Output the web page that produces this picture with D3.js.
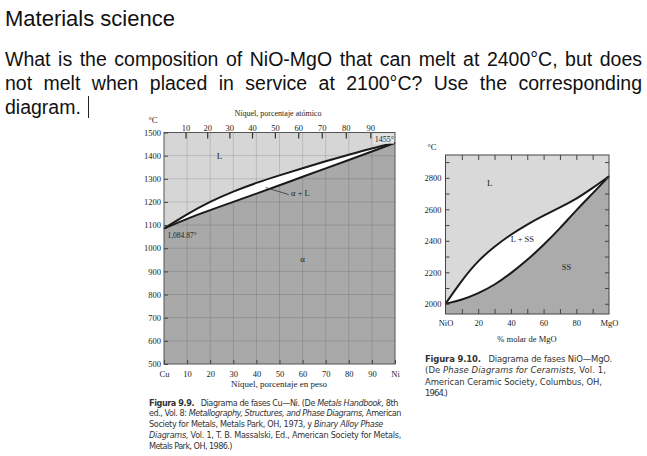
<!DOCTYPE html>
<html><head><meta charset="utf-8">
<script src="https://cdn.jsdelivr.net/npm/d3@7"></script>
<style>
body{margin:0;background:#fff;}
svg{display:block;}
</style></head><body>
<svg id="c" width="647" height="456"></svg>
<script>
// ---------- data ----------
const titleText = "Materials science";
const questionLines = [
  "What is the composition of NiO-MgO that can melt at 2400°C, but does",
  "not melt when placed in service at 2100°C? Use the corresponding",
  "diagram."
];
// Cu-Ni diagram (wt% Ni vs °C)
const cuNiWt = [0,10,20,30,40,50,60,70,80,90,100];
const cuNiLiquidus = [1085,1148,1202,1246,1283,1315,1346,1376,1404,1431,1455];
const cuNiSolidus  = [1085,1128,1165,1200,1236,1272,1309,1345,1381,1418,1455];
const cuNiTempTicks = [500,600,700,800,900,1000,1100,1200,1300,1400,1500];
const cuNiWtTicks = [0,10,20,30,40,50,60,70,80,90,100];
const cuNiWtLabels = ["Cu","10","20","30","40","50","60","70","80","90","Ni"];
const cuNiAtomicLabels = ["10","20","30","40","50","60","70","80","90"];
const cuNiAtomicPosWt = [9.3,18.7,28.3,38.1,48.0,58.1,68.3,78.7,89.3];
// NiO-MgO diagram (mol% MgO vs °C)
const nioMgoMol = [0,10,20,30,40,50,60,70,80,90,100];
const nioMgoLiquidus = [2000,2150,2275,2365,2440,2505,2560,2612,2665,2735,2810];
const nioMgoSolidus  = [2000,2024,2066,2119,2193,2277,2373,2479,2595,2701,2810];
const nioMgoTempLabels = [2000,2200,2400,2600,2800];
const nioMgoTempMinor = [2000,2100,2200,2300,2400,2500,2600,2700,2800,2900];
const nioMgoMolTicks = [10,20,30,40,50,60,70,80,90];
const nioMgoMolLabelPos = [0,20,40,60,80,100];
const nioMgoMolLabels = ["NiO","20","40","60","80","MgO"];
const captionLeft = [
  [["Figura 9.9.","b"],["   Diagrama de fases Cu—Ni. (De ",""],["Metals Handbook,","i"],[" 8th",""]],
  [["ed., Vol. 8: ",""],["Metallography, Structures, and Phase Diagrams,","i"],[" American",""]],
  [["Society for Metals, Metals Park, OH, 1973, y ",""],["Binary Alloy Phase","i"]],
  [["Diagrams,","i"],[" Vol. 1, T. B. Massalski, Ed., American Society for Metals,",""]],
  [["Metals Park, OH, 1986.)",""]]
];
const captionRight = [
  [["Figura 9.10.","b"],["   Diagrama de fases NiO—MgO.",""]],
  [["(De ",""],["Phase Diagrams for Ceramists,","i"],[" Vol. 1,",""]],
  [["American Ceramic Society, Columbus, OH,",""]],
  [["1964.)",""]]
];

// ---------- drawing ----------
const svg = d3.select("#c");
const SANS = "'Liberation Sans', Arial, sans-serif";
const SERIF = "'Liberation Serif', 'Times New Roman', serif";
const NARROW = "'Liberation Sans Narrow', 'DejaVu Sans Condensed', 'Liberation Sans', sans-serif";

svg.append("text").attr("x",5).attr("y",26).attr("font-family",SANS)
  .attr("font-size",22).attr("fill","#111").text(titleText);
const qBase = [66, 90, 114];
questionLines.forEach((t,i)=>{
  const el = svg.append("text").attr("x",5).attr("y",qBase[i]).attr("font-family",SANS)
    .attr("font-size",19.5).attr("fill","#111").style("white-space","pre").text(t);
  if (i < 2) {
    const w = el.node().getComputedTextLength();
    const n = (t.match(/ /g) || []).length;
    el.attr("word-spacing", ((637 - w) / n).toFixed(2));
  }
});
svg.append("line").attr("x1",88.5).attr("x2",88.5).attr("y1",96).attr("y2",118)
  .attr("stroke","#222").attr("stroke-width",1);

const curve = d3.curveBasis;
function styleAxis(g, fs, fam){
  g.select(".domain").remove();
  g.selectAll(".tick line").attr("stroke","#444");
  g.selectAll(".tick text").attr("font-family",fam).attr("font-size",fs).attr("fill","#222");
}

// ---------- left chart: Cu-Ni ----------
const xL = d3.scaleLinear().domain([0,100]).range([164,395]);
const yL = d3.scaleLinear().domain([500,1500]).range([364,132.5]);
const gL = svg.append("g");
gL.append("rect").attr("x",xL(0)).attr("y",yL(1500)).attr("width",xL(100)-xL(0))
  .attr("height",yL(500)-yL(1500)).attr("fill","#d6d6d6");
gL.append("path").datum(cuNiWt).attr("fill","#a9a9a9")
  .attr("d", d3.area().curve(curve).x(d=>xL(d)).y0(yL(500)).y1((d,i)=>yL(cuNiSolidus[i])));
gL.append("g").selectAll("line").data(cuNiWtTicks.slice(1,-1)).join("line")
  .attr("x1",d=>xL(d)).attr("x2",d=>xL(d)).attr("y1",yL(1500)).attr("y2",yL(500))
  .attr("stroke","rgba(0,0,0,0.13)").attr("stroke-width",1);
gL.append("g").selectAll("line").data(cuNiTempTicks.slice(1,-1)).join("line")
  .attr("x1",xL(0)).attr("x2",xL(100)).attr("y1",d=>yL(d)).attr("y2",d=>yL(d))
  .attr("stroke","rgba(0,0,0,0.13)").attr("stroke-width",1);
gL.append("path").datum(cuNiWt).attr("fill","#fff")
  .attr("d", d3.area().curve(curve).x(d=>xL(d)).y0((d,i)=>yL(cuNiSolidus[i])).y1((d,i)=>yL(cuNiLiquidus[i])));
gL.append("path").datum(cuNiWt).attr("fill","none").attr("stroke","#1a1a1a").attr("stroke-width",2)
  .attr("d", d3.line().curve(curve).x(d=>xL(d)).y((d,i)=>yL(cuNiLiquidus[i])));
gL.append("path").datum(cuNiWt).attr("fill","none").attr("stroke","#1a1a1a").attr("stroke-width",2)
  .attr("d", d3.line().curve(curve).x(d=>xL(d)).y((d,i)=>yL(cuNiSolidus[i])));
gL.append("rect").attr("x",xL(0)).attr("y",yL(1500)).attr("width",xL(100)-xL(0))
  .attr("height",yL(500)-yL(1500)).attr("fill","none").attr("stroke","#555").attr("stroke-width",1);

const axL = gL.append("g").attr("transform",`translate(${xL(0)},0)`)
  .call(d3.axisLeft(yL).tickValues(cuNiTempTicks).tickSize(-4).tickPadding(3).tickFormat(d3.format("d")));
styleAxis(axL, 8.5, SERIF);
const axB = gL.append("g").attr("transform",`translate(0,${yL(500)})`)
  .call(d3.axisBottom(xL).tickValues(cuNiWtTicks).tickSize(-4).tickPadding(5).tickFormat((d,i)=>cuNiWtLabels[i]));
styleAxis(axB, 8.5, SERIF);
axB.selectAll(".tick text").attr("dy","0.9em");
const axT = gL.append("g").attr("transform",`translate(0,${yL(1500)})`)
  .call(d3.axisTop(xL).tickValues(cuNiAtomicPosWt).tickSize(-6).tickPadding(2).tickFormat((d,i)=>cuNiAtomicLabels[i]));
styleAxis(axT, 8.5, SERIF);
axT.selectAll(".tick line").attr("stroke","#333").attr("stroke-width",1.2);

gL.append("text").attr("x",153).attr("y",123).attr("text-anchor","middle").attr("font-family",SERIF)
  .attr("font-size",8.5).attr("fill","#222").text("°C");
gL.append("text").attr("x",278).attr("y",116).attr("text-anchor","middle").attr("font-family",SERIF)
  .attr("font-size",8).attr("fill","#222").text("Níquel, porcentaje atómico");
gL.append("text").attr("x",279).attr("y",387).attr("text-anchor","middle").attr("font-family",SERIF)
  .attr("font-size",9).attr("fill","#222").text("Níquel, porcentaje en peso");
gL.append("text").attr("x",xL(24)).attr("y",yL(1385)).attr("text-anchor","middle").attr("font-family",SERIF)
  .attr("font-size",9).attr("fill","#222").text("L");
gL.append("line").attr("x1",xL(44)).attr("y1",yL(1262)).attr("x2",xL(54)).attr("y2",yL(1232))
  .attr("stroke","#333").attr("stroke-width",0.8);
gL.append("text").attr("x",xL(55)).attr("y",yL(1225)).attr("font-family",SERIF)
  .attr("font-size",8.5).attr("fill","#222").text("α + L");
gL.append("text").attr("x",xL(60)).attr("y",yL(940)).attr("text-anchor","middle").attr("font-family",SERIF)
  .attr("font-size",9).attr("fill","#222").text("α");
gL.append("text").attr("x",xL(1.5)).attr("y",yL(1045)).attr("font-family",SERIF)
  .attr("font-size",7.5).attr("fill","#222").text("1,084.87°");
gL.append("rect").attr("x",xL(90.5)).attr("y",yL(1495)).attr("width",xL(100)-xL(90.5)-1).attr("height",10)
  .attr("fill","#e4e4e4");
gL.append("text").attr("x",xL(99.5)).attr("y",yL(1458)).attr("text-anchor","end").attr("font-family",SERIF)
  .attr("font-size",8).attr("fill","#222").text("1455°");

// ---------- right chart: NiO-MgO ----------
const xR = d3.scaleLinear().domain([0,100]).range([445.5,609]);
const yR = d3.scaleLinear().domain([1935,2945]).range([314,155]);
const gR = svg.append("g");
gR.append("rect").attr("x",xR(0)).attr("y",yR(2945)).attr("width",xR(100)-xR(0))
  .attr("height",yR(1935)-yR(2945)).attr("fill","#d9d9d9");
gR.append("path").datum(nioMgoMol).attr("fill","#ababab")
  .attr("d", d3.area().curve(curve).x(d=>xR(d)).y0(yR(1935)).y1((d,i)=>yR(nioMgoSolidus[i])));
gR.append("path").datum(nioMgoMol).attr("fill","#fff")
  .attr("d", d3.area().curve(curve).x(d=>xR(d)).y0((d,i)=>yR(nioMgoSolidus[i])).y1((d,i)=>yR(nioMgoLiquidus[i])));
gR.append("path").datum(nioMgoMol).attr("fill","none").attr("stroke","#1a1a1a").attr("stroke-width",2)
  .attr("d", d3.line().curve(curve).x(d=>xR(d)).y((d,i)=>yR(nioMgoLiquidus[i])));
gR.append("path").datum(nioMgoMol).attr("fill","none").attr("stroke","#1a1a1a").attr("stroke-width",2)
  .attr("d", d3.line().curve(curve).x(d=>xR(d)).y((d,i)=>yR(nioMgoSolidus[i])));
gR.append("rect").attr("x",xR(0)).attr("y",yR(2945)).attr("width",xR(100)-xR(0))
  .attr("height",yR(1935)-yR(2945)).attr("fill","none").attr("stroke","#444").attr("stroke-width",1);

const rl = gR.append("g").attr("transform",`translate(${xR(0)},0)`)
  .call(d3.axisLeft(yR).tickValues(nioMgoTempMinor).tickSize(-4).tickPadding(4)
    .tickFormat(d=> nioMgoTempLabels.includes(d) ? d : ""));
styleAxis(rl, 8.5, SERIF);
const rr = gR.append("g").attr("transform",`translate(${xR(100)},0)`)
  .call(d3.axisRight(yR).tickValues(nioMgoTempMinor).tickSize(-4).tickFormat(""));
styleAxis(rr, 8.5, SERIF);
const rt = gR.append("g").attr("transform",`translate(0,${yR(2945)})`)
  .call(d3.axisTop(xR).tickValues(nioMgoMolTicks).tickSize(-5).tickFormat(""));
styleAxis(rt, 8.5, SERIF);
const rb = gR.append("g").attr("transform",`translate(0,${yR(1935)})`)
  .call(d3.axisBottom(xR).tickValues(nioMgoMolTicks).tickSize(-5).tickFormat(""));
styleAxis(rb, 8.5, SERIF);
const rbl = gR.append("g").attr("transform",`translate(0,${yR(1935)})`)
  .call(d3.axisBottom(xR).tickValues(nioMgoMolLabelPos).tickSize(0).tickPadding(6).tickFormat((d,i)=>nioMgoMolLabels[i]));
styleAxis(rbl, 8.5, SERIF);
gR.append("text").attr("x",432).attr("y",150).attr("text-anchor","middle").attr("font-family",SERIF)
  .attr("font-size",8.5).attr("fill","#222").text("°C");
gR.append("text").attr("x",527).attr("y",342).attr("text-anchor","middle").attr("font-family",SERIF)
  .attr("font-size",8.5).attr("fill","#222").text("% molar de MgO");
gR.append("text").attr("x",xR(27)).attr("y",yR(2745)).attr("text-anchor","middle").attr("font-family",SERIF)
  .attr("font-size",9).attr("fill","#222").text("L");
gR.append("text").attr("x",xR(47)).attr("y",yR(2395)).attr("text-anchor","middle").attr("font-family",SERIF)
  .attr("font-size",8.5).attr("fill","#222").text("L + SS");
gR.append("text").attr("x",xR(74)).attr("y",yR(2215)).attr("text-anchor","middle").attr("font-family",SERIF)
  .attr("font-size",8.5).attr("fill","#222").text("SS");

// ---------- captions ----------
function caption(lines, x, y0, dy, fs, widths){
  lines.forEach((parts,i)=>{
    const t = svg.append("text").attr("x",x).attr("y",y0+i*dy).attr("font-family",NARROW)
      .attr("font-size",fs).attr("fill","#333").style("white-space","pre");
    parts.forEach(([s,st])=>{
      const sp = t.append("tspan").text(s);
      if (st==="b") sp.attr("font-weight","bold");
      if (st==="i") sp.attr("font-style","italic");
    });
    if (widths[i]) {
      const w = t.node().getComputedTextLength();
      const n = parts.reduce((a,p)=>a+p[0].length,0);
      t.attr("letter-spacing", ((widths[i]-w)/n).toFixed(3));
    }
  });
}
caption(captionLeft, 149, 405.5, 10.8, 9, [249,252,234,252,83]);
caption(captionRight, 425, 362, 11.4, 9.4, [187,181,177,22]);
</script>
</body></html>
